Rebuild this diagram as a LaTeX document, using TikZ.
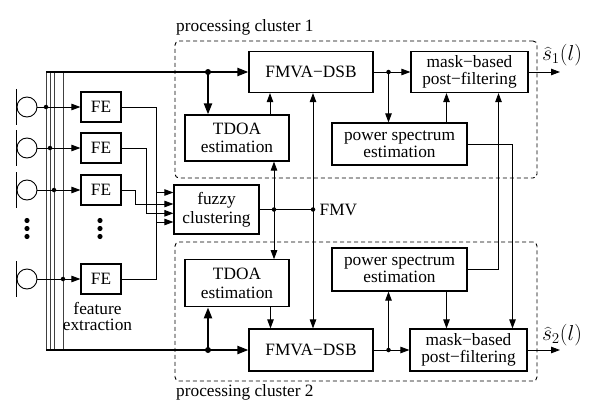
\documentclass[tikz,border=0pt]{standalone}
\usepackage{fontspec}
\setmainfont{Liberation Serif}
\usetikzlibrary{arrows.meta,calc}
\begin{document}
\begin{tikzpicture}[x=1pt,y=-1pt,
  every node/.style={font=\fontsize{17.3}{18.5}\selectfont, inner sep=0pt},
  box/.style={draw, line width=1.2pt, align=center},
  tight/.style={font=\fontsize{17.3}{16.6}\selectfont},
  arr/.style={line width=0.9pt, -{Triangle[length=9pt,width=6.5pt]}},
  thickarr/.style={line width=2.2pt, -{Triangle[length=11pt,width=8pt]}},
  ln/.style={line width=0.9pt},
  bus/.style={line width=0.8pt, black!75},
  jdot/.style={circle, fill, minimum size=4.5pt, inner sep=0pt},
  bigdot/.style={circle, fill, minimum size=6pt, inner sep=0pt},
  cluster/.style={draw, dash pattern=on 4pt off 3pt, rounded corners=4pt, line width=0.9pt},
  mic/.style={draw, circle, minimum size=20pt, line width=0.9pt}
]
\useasboundingbox (0,0) rectangle (601,417);

% clusters
\node[cluster, minimum width=362pt, minimum height=137pt] (c1) at (356,109.5) {};
\node[cluster, minimum width=362pt, minimum height=139pt] (c2) at (356,311.5) {};
\node[anchor=west] (c1lab) at (176,27) {processing cluster 1};
\node[anchor=west] (c2lab) at (176,392) {processing cluster 2};

% microphones
\node[mic] (m1) at (27,107) {};
\node[mic] (m2) at (27,148) {};
\node[mic] (m3) at (27,190) {};
\node[mic] (m4) at (27,279) {};
\foreach \m in {m1,m2,m3,m4}
  \draw[line width=1.2pt] ($(\m.west)+(0,-18)$) -- ($(\m.west)+(0,18)$);

% bus lines
\coordinate (topL) at (46,72);
\coordinate (botL) at (46,350);
\foreach \x in {46,50,54,63} \draw[bus] (\x,72) -- (\x,350);

% FE boxes
\node[box, minimum width=40pt, minimum height=30pt] (fe1) at (101,107) {FE};
\node[box, minimum width=40pt, minimum height=30pt] (fe2) at (101,148) {FE};
\node[box, minimum width=40pt, minimum height=30pt] (fe3) at (101,190) {FE};
\node[box, minimum width=40pt, minimum height=30pt] (fe4) at (101,279) {FE};
\node[align=center, font=\fontsize{17.3}{16}\selectfont] (felab) at (97.5,316) {feature\\extraction};

% mic -> FE
\node[jdot] (bd1) at (46,107) {};
\node[jdot] (bd2) at (50,148) {};
\node[jdot] (bd3) at (54,190) {};
\node[jdot] (bd4) at (63,279) {};
\draw[arr] (m1.east) -- (fe1.west);
\draw[arr] (m2.east) -- (fe2.west);
\draw[arr] (m3.east) -- (fe3.west);
\draw[arr] (m4.east) -- (fe4.west);

% vertical ellipses
\foreach \y in {220.5,228.5,236.5} {
  \fill (27,\y) circle (2.6pt);
  \fill (100,\y) circle (2.6pt);
}

% fuzzy clustering
\node[box, minimum width=85pt, minimum height=49pt, font=\fontsize{17.3}{19}\selectfont] (fz) at (216.5,209.5) {fuzzy\\clustering};
\draw[arr] (fe1.east) -- ++(35,0) |- ([yshift=-12.5pt]fz.west);
\draw[arr] (fe2.east) -- ++(24.7,0) |- ([yshift=-3.8pt]fz.west);
\draw[arr] (fe3.east) -- ++(14,0) |- ([yshift=5.5pt]fz.west);
\draw[arr] (fe4.east) -- ++(35,0) |- ([yshift=17pt]fz.west);

% cluster 1 blocks
\node[box, minimum width=124pt, minimum height=41pt] (fm1) at (311,72) {FMVA−DSB};
\node[box, minimum width=104pt, minimum height=46pt] (td1) at (237,138) {TDOA\\estimation};
\node[box, tight, minimum width=135pt, minimum height=42pt] (ps1) at (399.5,144) {power spectrum\\estimation};
\node[box, tight, minimum width=117pt, minimum height=41pt] (mk1) at (469.5,72) {mask−based\\post−filtering};

% cluster 2 blocks
\node[box, minimum width=124pt, minimum height=42pt] (fm2) at (311,350) {FMVA−DSB};
\node[box, minimum width=104pt, minimum height=47pt] (td2) at (237,283.3) {TDOA\\estimation};
\node[box, tight, minimum width=135pt, minimum height=43pt] (ps2) at (399.5,269.5) {power spectrum\\estimation};
\node[box, tight, minimum width=117pt, minimum height=42pt] (mk2) at (468.5,350) {mask−based\\post−filtering};

% thick inputs
\draw[thickarr] (topL) -- (fm1.west);
\draw[thickarr] (botL) -- (fm2.west);
\node[bigdot] (d1) at (208,72) {};
\node[bigdot] (d2) at (208,350) {};
\draw[thickarr] (d1.center) -- (td1.north -| d1);
\draw[thickarr] (d2.center) -- (td2.south -| d2);

% TDOA -> FMVA
\draw[arr] ([xshift=33pt]td1.north) -- ([xshift=33pt]td1.north |- fm1.south);
\draw[arr] ([xshift=33.5pt]td2.south) -- ([xshift=33.5pt]td2.south |- fm2.north);

% FMV
\coordinate (j1) at (274,209.5);
\coordinate (j2) at (313,209.5);
\draw[ln] (fz.east) -- (j2);
\node[jdot] (j1d) at (j1) {};
\node[jdot] (j2d) at (j2) {};
\node[anchor=west] (fmv) at (319.5,210) {FMV};
\draw[arr] (j1) -- (td1.south -| j1);
\draw[arr] (j1) -- (td2.north -| j1);
\draw[arr] (j2) -- (fm1.south -| j2);
\draw[arr] (j2) -- (fm2.north -| j2);

% FMVA -> mask, power spectrum
\coordinate (k1) at (388.5,72);
\coordinate (k2) at (388.5,350);
\draw[arr] (fm1.east) -- (mk1.west);
\draw[arr] (fm2.east) -- (mk2.west);
\node[jdot] (k1d) at (k1) {};
\node[jdot] (k2d) at (k2) {};
\draw[arr] (k1) -- (ps1.north -| k1);
\draw[arr] (k2) -- (ps2.south -| k2);

% power spectrum -> mask
\draw[arr] ([xshift=47pt]ps1.north) -- ([xshift=47pt]ps1.north |- mk1.south);
\draw[arr] ([xshift=47pt]ps2.south) -- ([xshift=47pt]ps2.south |- mk2.north);
\draw[arr] (ps1.east) -| ([xshift=44pt]mk2.north);
\draw[arr] (ps2.east) -| ([xshift=29pt]mk1.south);

% outputs
\coordinate (o1) at (560,72);
\coordinate (o2) at (560,350);
\draw[arr] (mk1.east) -- (o1);
\draw[arr] (mk2.east) -- (o2);
\node (s1) at (562,55) {\scalebox{1.25}{$\widehat{s}_1(l)$}};
\node (s2) at (562,335) {\scalebox{1.25}{$\widehat{s}_2(l)$}};
\end{tikzpicture}
\end{document}
